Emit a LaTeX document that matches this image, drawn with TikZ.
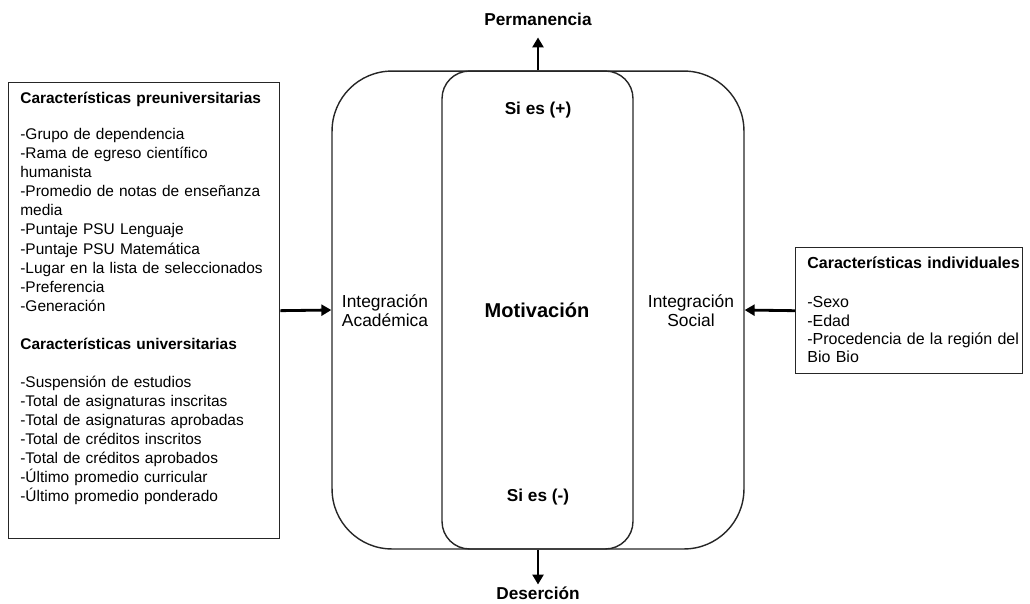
\documentclass[tikz,border=0pt]{standalone}
\usepackage{fontspec}
\setmainfont{Liberation Sans}
\usetikzlibrary{arrows.meta}

\begin{document}
\begin{tikzpicture}[x=0.02cm, y=-0.02cm,
                    box/.style={draw=black!85, line width=0.8pt},
                    flow/.style={draw=black, line width=1.6pt, -{Triangle[length=2mm,width=2.2mm]}},
                    title/.style={font=\fontsize{9.8}{11}\selectfont\bfseries, inner sep=1pt},
                    plain/.style={font=\fontsize{9.9}{10.8}\selectfont, align=center},
                    list/.style={anchor=north west, align=left, inner sep=0pt}]

  \useasboundingbox (0,0) rectangle (1030,603);

  % Bloque central
  \node[box, rounded corners=1.2cm, minimum width=8.24cm, minimum height=9.56cm] (outer) at (538,310) {}; % Integracion
  \node[box, rounded corners=0.55cm, minimum width=3.82cm, minimum height=9.56cm] (inner) at (537.5,310) {}; % Motivacion

  % Textos del centro
  \node[plain] (acad) at (385,311) {Integración\\Académica};
  \node[font=\fontsize{11.4}{13}\selectfont\bfseries] (motiv) at (537,310) {Motivación};
  \node[plain] (soc) at (691,311) {Integración\\Social};
  \node[title] (pos) at (538,110) {Si es (+)};
  \node[title] (neg) at (538,497) {Si es (-)};

  % Salidas
  \node[title] (perm) at (538,19) {Permanencia};
  \node[title] (des) at (538,593) {Deserción};
  \draw[flow, shorten >=0.2cm] (outer.north) -- (perm.south);
  \draw[flow] (outer.south) -- (des.north);

  % Caja izquierda
  \node[box, minimum width=5.42cm, minimum height=9.12cm, anchor=north west] (pre) at (8,82) {};
  \node[list, text width=4.94cm, font=\fontsize{8.8}{10.85}\selectfont] (pretxt) at (20,92) {%
    \textbf{Características preuniversitarias}\\[9.6pt]
    -Grupo de dependencia\\
    -Rama de egreso científico\\
    humanista\\
    -Promedio de notas de enseñanza\\
    media\\
    -Puntaje PSU Lenguaje\\
    -Puntaje PSU Matemática\\
    -Lugar en la lista de seleccionados\\
    -Preferencia\\
    -Generación\\[10.85pt]
    \textbf{Características universitarias}\\[10.85pt]
    -Suspensión de estudios\\
    -Total de asignaturas inscritas\\
    -Total de asignaturas aprobadas\\
    -Total de créditos inscritos\\
    -Total de créditos aprobados\\
    -Último promedio curricular\\
    -Último promedio ponderado};

  % Caja derecha
  \node[box, minimum width=4.54cm, minimum height=2.52cm, anchor=north west] (ind) at (795,247) {};
  \node[list, text width=4.6cm, font=\fontsize{9.1}{10.4}\selectfont] (indtxt) at (807,256) {%
    \textbf{Características individuales}\\[12.3pt]
    -Sexo\\
    -Edad\\
    -Procedencia de la región del\\
    Bio Bio};

  % Flechas de entrada
  \draw[flow] (pre.east) -- (outer.west);
  \draw[flow] (ind.west) -- (outer.east);
\end{tikzpicture}
\end{document}
